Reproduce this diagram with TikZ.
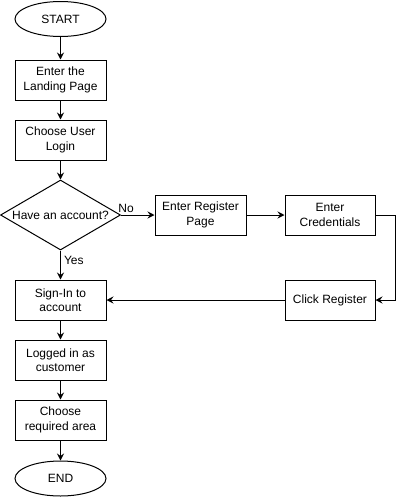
\documentclass[tikz,border=0pt]{standalone}
\usepackage{fontspec}
\setmainfont{Liberation Sans}
\usetikzlibrary{shapes.geometric, arrows.meta}

\begin{document}
\begin{tikzpicture}
	[
		x=1pt, y=-1pt,
		font=\fontsize{12}{14.4}\selectfont,
		terminal/.style={ellipse, draw=black, line width=1pt, minimum width=91pt, minimum height=35pt, inner sep=0pt},
		process/.style={rectangle, draw=black, line width=1pt, minimum width=91pt, minimum height=40pt, inner sep=1pt, align=center},
		decision/.style={diamond, draw=black, line width=1pt, minimum width=120pt, minimum height=70pt, inner sep=0pt},
		flow/.style={draw=black, line width=1pt, >={Stealth[length=7pt, width=7pt, inset=2.5pt]}, ->}
	]

	\useasboundingbox (0,0) rectangle (404,501);

	\node (start)    at (60.5, 19.0)  [terminal] {START};
	\node (landing)  at (60.5, 80.0)  [process] {Enter the\\Landing Page};
	\node (login)    at (60.5, 140.0) [process] {Choose User\\Login};
	\node (account)  at (60.5, 215.0) [decision] {\makebox[0pt]{Have an account?}};
	\node (signin)   at (60.5, 300.0) [process] {Sign-In to\\account};
	\node (customer) at (60.5, 360.0) [process] {Logged in as\\customer};
	\node (area)     at (60.5, 420.0) [process] {Choose\\required area};
	\node (finish)   at (60.5, 478.5) [terminal] {END};

	\node (register) at (200.5, 215.0) [process] {Enter Register\\Page};
	\node (creds)    at (330.0, 215.0) [process, minimum width=90pt] {Enter\\Credentials};
	\node (click)    at (330.0, 300.0) [process, minimum width=90pt] {Click Register};

	\coordinate (bend) at (395.0, 215.0);

	\draw [flow] (start.south) -- (landing.north);
	\draw [flow] (landing.south) -- (login.north);
	\draw [flow] (login.south) -- (account.north);

	\draw [flow] (account.east)
		--
		node [pos=0.15, above, inner sep=1.5pt] {No}
		(register.west);
	\draw [flow] (account.south)
		--
		node [pos=0.33, right, inner sep=3pt] {Yes}
		(signin.north);

	\draw [flow] (register.east) -- (creds.west);
	\draw [flow] (creds.east) -- (bend) |- (click.east);
	\draw [flow] (click.west) -- (signin.east);

	\draw [flow] (signin.south) -- (customer.north);
	\draw [flow] (customer.south) -- (area.north);
	\draw [flow] (area.south) -- (finish.north);
\end{tikzpicture}
\end{document}
